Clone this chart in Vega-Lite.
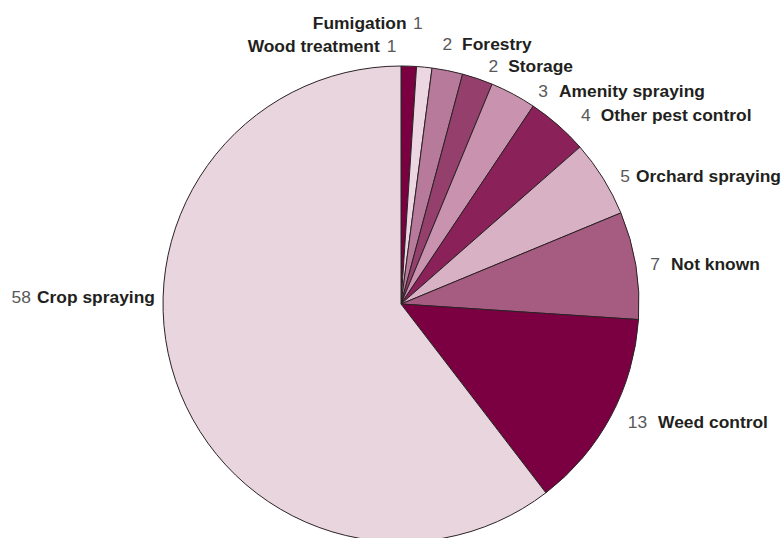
{
  "$schema": "https://vega.github.io/schema/vega-lite/v6.json",
  "width": 802,
  "height": 608,
  "autosize": {"type": "none"},
  "padding": {"left": 0, "top": 0, "right": -21, "bottom": -70},
  "background": "white",
  "config": {"view": {"stroke": null}, "text": {"font": "Liberation Sans", "fontSize": 17.4, "baseline": "middle"}},
  "data": {
    "values": [
      {"category": "Fumigation", "value": 1, "order": 1},
      {"category": "Wood treatment", "value": 1, "order": 2},
      {"category": "Forestry", "value": 2, "order": 3},
      {"category": "Storage", "value": 2, "order": 4},
      {"category": "Amenity spraying", "value": 3, "order": 5},
      {"category": "Other pest control", "value": 4, "order": 6},
      {"category": "Orchard spraying", "value": 5, "order": 7},
      {"category": "Not known", "value": 7, "order": 8},
      {"category": "Weed control", "value": 13, "order": 9},
      {"category": "Crop spraying", "value": 58, "order": 10}
    ]
  },
  "encoding": {
    "theta": {"field": "value", "type": "quantitative", "stack": true},
    "order": {"field": "order", "type": "quantitative"}
  },
  "layer": [
    {
      "mark": {"type": "arc", "radius": 238, "stroke": "#2b2226", "strokeWidth": 1},
      "encoding": {
        "color": {
          "field": "category",
          "type": "nominal",
          "legend": null,
          "scale": {
            "domain": ["Fumigation", "Wood treatment", "Forestry", "Storage", "Amenity spraying", "Other pest control", "Orchard spraying", "Not known", "Weed control", "Crop spraying"],
            "range": ["#7a0042", "#ecd6e1", "#b87a9a", "#953f6c", "#c993b0", "#8b2159", "#d8b1c4", "#a65b80", "#7a0042", "#e9d5de"]
          }
        }
      }
    },
    {"mark": {"type": "text", "radius": 262, "align": "right", "dx": 0, "dy": -2, "color": "#58585a"},
     "encoding": {"text": {"condition": {"test": "datum.category == 'Forestry'", "field": "value", "type": "quantitative"}, "value": ""}}},
    {"mark": {"type": "text", "radius": 262, "align": "left", "dx": 10, "dy": -2, "fontWeight": "bold", "color": "#231f20"},
     "encoding": {"text": {"condition": {"test": "datum.category == 'Forestry'", "field": "category", "type": "nominal"}, "value": ""}}},
    {"mark": {"type": "text", "radius": 262, "align": "right", "dx": 13, "dy": 11, "color": "#58585a"},
     "encoding": {"text": {"condition": {"test": "datum.category == 'Storage'", "field": "value", "type": "quantitative"}, "value": ""}}},
    {"mark": {"type": "text", "radius": 262, "align": "left", "dx": 23, "dy": 11, "fontWeight": "bold", "color": "#231f20"},
     "encoding": {"text": {"condition": {"test": "datum.category == 'Storage'", "field": "category", "type": "nominal"}, "value": ""}}},
    {"mark": {"type": "text", "radius": 262, "align": "right", "dx": 23.5, "dy": 19, "color": "#58585a"},
     "encoding": {"text": {"condition": {"test": "datum.category == 'Amenity spraying'", "field": "value", "type": "quantitative"}, "value": ""}}},
    {"mark": {"type": "text", "radius": 262, "align": "left", "dx": 34.5, "dy": 19, "fontWeight": "bold", "color": "#231f20"},
     "encoding": {"text": {"condition": {"test": "datum.category == 'Amenity spraying'", "field": "category", "type": "nominal"}, "value": ""}}},
    {"mark": {"type": "text", "radius": 262, "align": "right", "dx": 17, "dy": 9, "color": "#58585a"},
     "encoding": {"text": {"condition": {"test": "datum.category == 'Other pest control'", "field": "value", "type": "quantitative"}, "value": ""}}},
    {"mark": {"type": "text", "radius": 262, "align": "left", "dx": 27, "dy": 9, "fontWeight": "bold", "color": "#231f20"},
     "encoding": {"text": {"condition": {"test": "datum.category == 'Other pest control'", "field": "category", "type": "nominal"}, "value": ""}}},
    {"mark": {"type": "text", "radius": 262, "align": "right", "dx": 6.5, "dy": 11, "color": "#58585a"},
     "encoding": {"text": {"condition": {"test": "datum.category == 'Orchard spraying'", "field": "value", "type": "quantitative"}, "value": ""}}},
    {"mark": {"type": "text", "radius": 262, "align": "left", "dx": 12.5, "dy": 11, "fontWeight": "bold", "color": "#231f20"},
     "encoding": {"text": {"condition": {"test": "datum.category == 'Orchard spraying'", "field": "category", "type": "nominal"}, "value": ""}}},
    {"mark": {"type": "text", "radius": 262, "align": "right", "dx": 0.5, "dy": 4, "color": "#58585a"},
     "encoding": {"text": {"condition": {"test": "datum.category == 'Not known'", "field": "value", "type": "quantitative"}, "value": ""}}},
    {"mark": {"type": "text", "radius": 262, "align": "left", "dx": 11.5, "dy": 4, "fontWeight": "bold", "color": "#231f20"},
     "encoding": {"text": {"condition": {"test": "datum.category == 'Not known'", "field": "category", "type": "nominal"}, "value": ""}}},
    {"mark": {"type": "text", "radius": 262, "align": "right", "dx": 15, "dy": -5, "color": "#58585a"},
     "encoding": {"text": {"condition": {"test": "datum.category == 'Weed control'", "field": "value", "type": "quantitative"}, "value": ""}}},
    {"mark": {"type": "text", "radius": 262, "align": "left", "dx": 26, "dy": -5, "fontWeight": "bold", "color": "#231f20"},
     "encoding": {"text": {"condition": {"test": "datum.category == 'Weed control'", "field": "category", "type": "nominal"}, "value": ""}}},
    {"mark": {"type": "text", "radius": 262, "align": "right", "dx": 2, "dy": -90, "fontWeight": "bold", "color": "#231f20"},
     "encoding": {"text": {"condition": {"test": "datum.category == 'Crop spraying'", "field": "category", "type": "nominal"}, "value": ""}}},
    {"mark": {"type": "text", "radius": 262, "align": "right", "dx": -122, "dy": -90, "color": "#58585a"},
     "encoding": {"text": {"condition": {"test": "datum.category == 'Crop spraying'", "field": "value", "type": "quantitative"}, "value": ""}}},
    {"mark": {"type": "text", "radius": 262, "align": "right", "dx": -3, "dy": -18, "fontWeight": "bold", "color": "#231f20"},
     "encoding": {"text": {"condition": {"test": "datum.category == 'Fumigation'", "field": "category", "type": "nominal"}, "value": ""}}},
    {"mark": {"type": "text", "radius": 262, "align": "left", "dx": 3.5, "dy": -18, "color": "#58585a"},
     "encoding": {"text": {"condition": {"test": "datum.category == 'Fumigation'", "field": "value", "type": "quantitative"}, "value": ""}}},
    {"mark": {"type": "text", "radius": 262, "align": "right", "dx": -47, "dy": 3.5, "fontWeight": "bold", "color": "#231f20"},
     "encoding": {"text": {"condition": {"test": "datum.category == 'Wood treatment'", "field": "category", "type": "nominal"}, "value": ""}}},
    {"mark": {"type": "text", "radius": 262, "align": "left", "dx": -40, "dy": 3.5, "color": "#58585a"},
     "encoding": {"text": {"condition": {"test": "datum.category == 'Wood treatment'", "field": "value", "type": "quantitative"}, "value": ""}}}
  ]
}
